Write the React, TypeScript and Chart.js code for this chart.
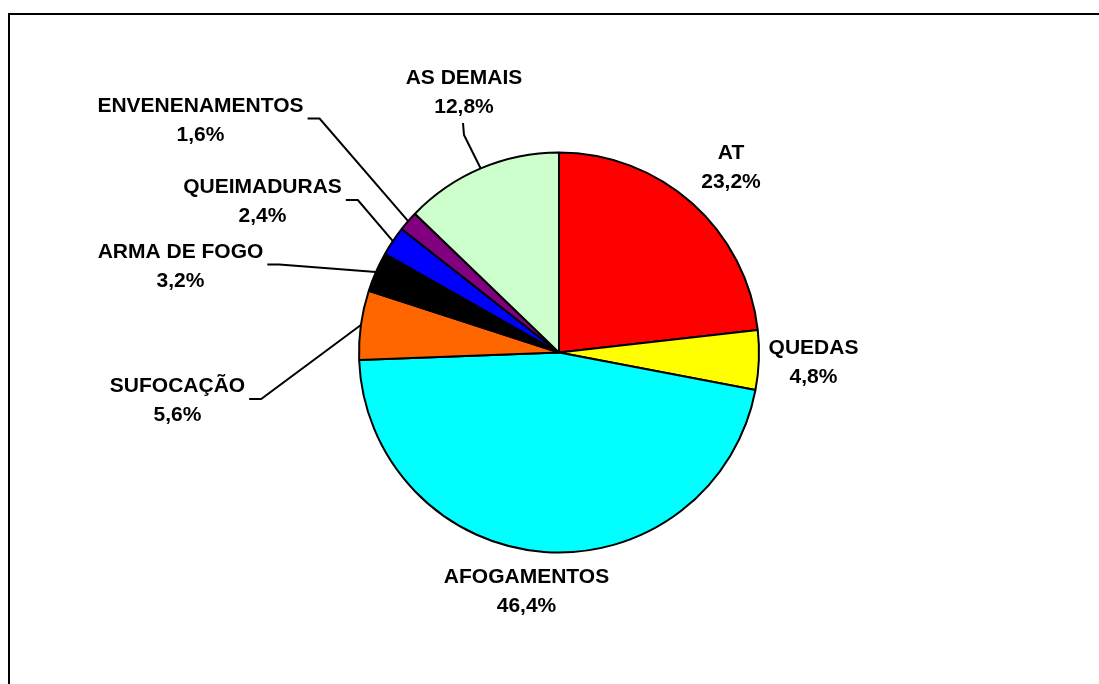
import React, { useEffect, useRef } from "react";
import { Chart, registerables } from "chart.js";

Chart.register(...registerables);

const categories = [
  "AT",
  "QUEDAS",
  "AFOGAMENTOS",
  "SUFOCAÇÃO",
  "ARMA DE FOGO",
  "QUEIMADURAS",
  "ENVENENAMENTOS",
  "AS DEMAIS",
];
const values = [23.2, 4.8, 46.4, 5.6, 3.2, 2.4, 1.6, 12.8];
const sliceColors = [
  "#FF0000",
  "#FFFF00",
  "#00FFFF",
  "#FF6600",
  "#000000",
  "#0000FF",
  "#800080",
  "#CCFFCC",
];

// label block centre, offset from the pie centre (px), and leader style
const labelOffsets: [number, number][] = [
  [172, -187],
  [254.5, 8],
  [-32.5, 237.5],
  [-381.5, 46.5],
  [-378.5, -88],
  [-296.5, -152.5],
  [-358.5, -234],
  [-95, -261.5],
];
const leaderKinds = ["none", "none", "none", "side", "side", "side", "side", "top"];

const FONT = "bold 21px 'Liberation Sans', Arial, sans-serif";
const LINE_GAP = 29;
const CAP_HALF = 7.5;

const fmt = (v: number) => v.toFixed(1).replace(".", ",") + "%";

const framePlugin = {
  id: "frame",
  beforeDraw(chart: any) {
    const { ctx, width, height } = chart;
    ctx.save();
    ctx.fillStyle = "#ffffff";
    ctx.fillRect(0, 0, width, height);
    ctx.strokeStyle = "#000000";
    ctx.lineWidth = 2;
    ctx.beginPath();
    ctx.moveTo(1, height + 5);
    ctx.lineTo(1, 6);
    ctx.lineTo(width + 5, 6);
    ctx.stroke();
    ctx.restore();
  },
};

const labelPlugin = {
  id: "pieLabels",
  afterDatasetsDraw(chart: any) {
    const { ctx } = chart;
    const meta = chart.getDatasetMeta(0);
    ctx.save();
    ctx.font = FONT;
    ctx.fillStyle = "#000000";
    ctx.strokeStyle = "#000000";
    ctx.lineWidth = 2;
    ctx.lineJoin = "miter";
    ctx.textAlign = "center";
    ctx.textBaseline = "alphabetic";
    meta.data.forEach((arc: any, i: number) => {
      const p = arc.getProps(["x", "y", "startAngle", "endAngle", "outerRadius"], true);
      const mid = (p.startAngle + p.endAngle) / 2;
      const ex = p.x + p.outerRadius * Math.cos(mid);
      const ey = p.y + p.outerRadius * Math.sin(mid);
      const lx = p.x + labelOffsets[i][0];
      const ly = p.y + labelOffsets[i][1];
      const lines = [categories[i], fmt(values[i])];
      const w = Math.max(...lines.map((t) => ctx.measureText(t).width));
      ctx.fillText(lines[0], lx, ly - LINE_GAP / 2 + CAP_HALF);
      ctx.fillText(lines[1], lx, ly + LINE_GAP / 2 + CAP_HALF);
      const kind = leaderKinds[i];
      if (kind === "side") {
        const right = lx + w / 2;
        ctx.beginPath();
        ctx.moveTo(right + 4, ly);
        ctx.lineTo(right + 16, ly);
        ctx.lineTo(ex, ey);
        ctx.stroke();
      } else if (kind === "top") {
        ctx.beginPath();
        ctx.moveTo(lx - 1, ly + 32);
        ctx.lineTo(lx, ly + 44);
        ctx.lineTo(ex, ey);
        ctx.stroke();
      }
    });
    ctx.restore();
  },
};

export default function App() {
  const ref = useRef<HTMLCanvasElement | null>(null);
  useEffect(() => {
    const canvas = ref.current;
    if (!canvas) return;
    const chart = new Chart(canvas, {
      type: "pie",
      data: {
        labels: categories,
        datasets: [
          {
            data: values,
            backgroundColor: sliceColors,
            borderColor: "#000000",
            borderWidth: 2,
            radius: 200,
          } as any,
        ],
      },
      options: {
        responsive: false,
        animation: false,
        events: [],
        layout: { padding: { left: 11, right: 0, top: 13, bottom: 0 } },
        plugins: {
          legend: { display: false },
          tooltip: { enabled: false },
        },
      },
      plugins: [framePlugin, labelPlugin],
    });
    return () => chart.destroy();
  }, []);
  return (
    <div style={{ position: "fixed", left: 8, top: 8, width: 1091, height: 676 }}>
      <canvas ref={ref} width={1091} height={676} style={{ display: "block" }} />
    </div>
  );
}
